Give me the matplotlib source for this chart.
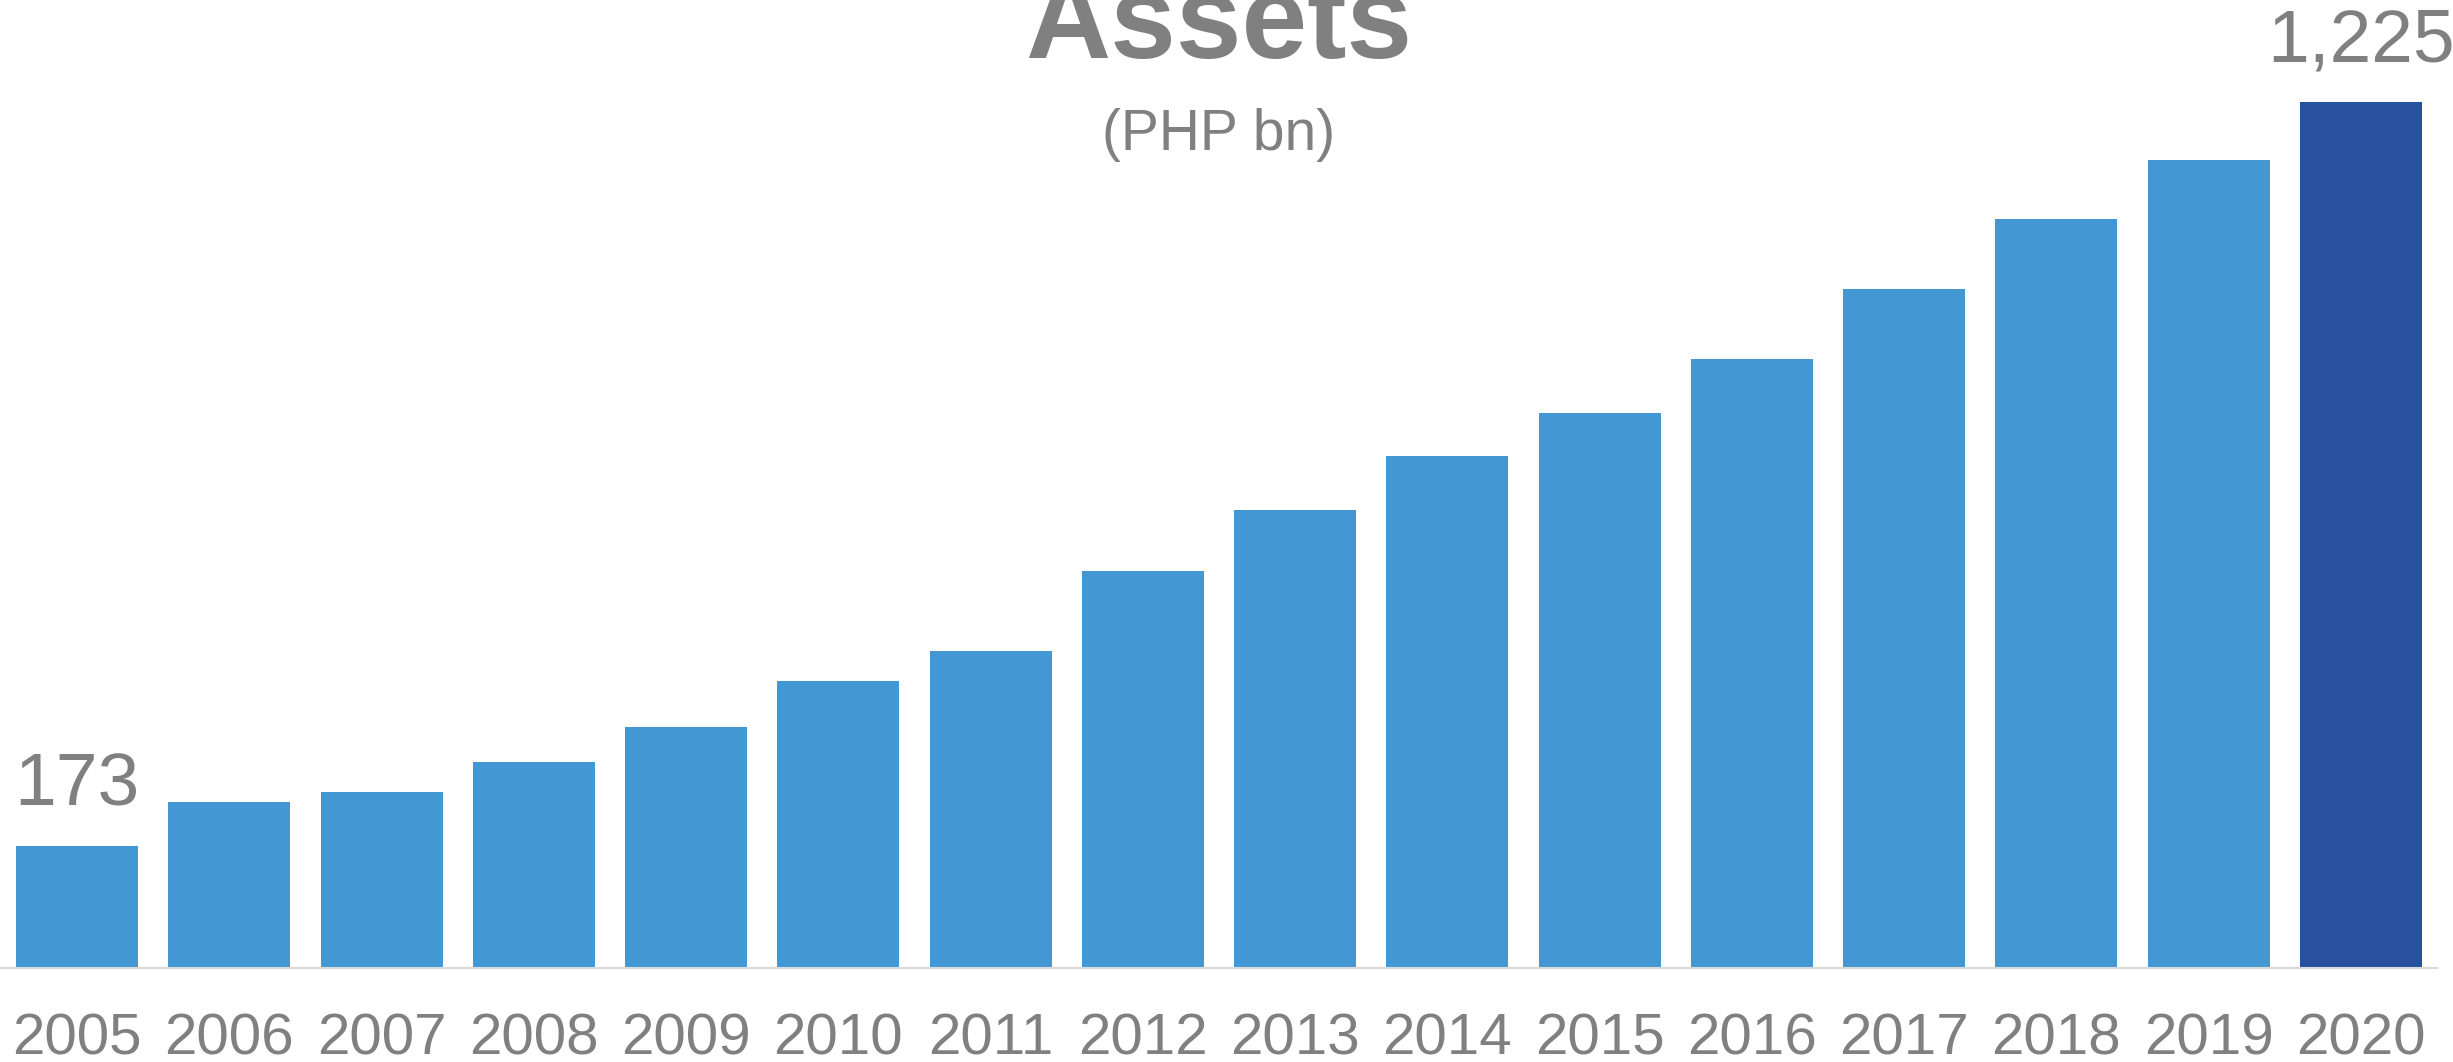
import matplotlib
matplotlib.use("Agg")
import matplotlib.pyplot as plt

years = ['2005', '2006', '2007', '2008', '2009', '2010', '2011', '2012',
         '2013', '2014', '2015', '2016', '2017', '2018', '2019', '2020']
assets = [173, 235, 249, 292, 341, 406, 449, 562,
          648, 725, 785, 861, 960, 1059, 1143, 1225]
labelled = {0: '173', 15: '1,225'}

grey = '#808080'
light_blue = '#4398D3'
dark_blue = '#27509E'

plt.rcParams['font.family'] = ['Liberation Sans', 'DejaVu Sans']

fig = plt.figure(figsize=(24.53, 10.62), dpi=100)
ax = fig.add_axes([1 / 2453, 0.0882, 2436 / 2453, 0.9118])

colors = [light_blue] * (len(years) - 1) + [dark_blue]
x = range(len(years))
ax.bar(x, assets, width=0.8, color=colors)

for i, txt in labelled.items():
    ax.annotate(txt, (i, assets[i]), xytext=(0, 28.8), textcoords='offset points',
                ha='center', va='baseline', fontsize=54, color=grey,
                annotation_clip=False)

ax.set_xlim(-0.5, len(years) - 0.5)
ax.set_ylim(0, 1369)
ax.set_xticks(list(x))
ax.set_xticklabels(years, fontsize=42, color=grey)
ax.tick_params(axis='x', length=0, pad=32)
ax.set_yticks([])
for s in ['top', 'right', 'left']:
    ax.spines[s].set_visible(False)
ax.spines['bottom'].set_color('#D9D9D9')
ax.spines['bottom'].set_linewidth(1.5)

fig.text(1219 / 2453, 0.9454, 'Assets', fontsize=85, fontweight='bold',
         color=grey, ha='center', va='baseline')
fig.text(1219 / 2453, 0.8590, '(PHP bn)', fontsize=41, color=grey,
         ha='center', va='baseline')

fig.savefig('out.png', dpi=100)
